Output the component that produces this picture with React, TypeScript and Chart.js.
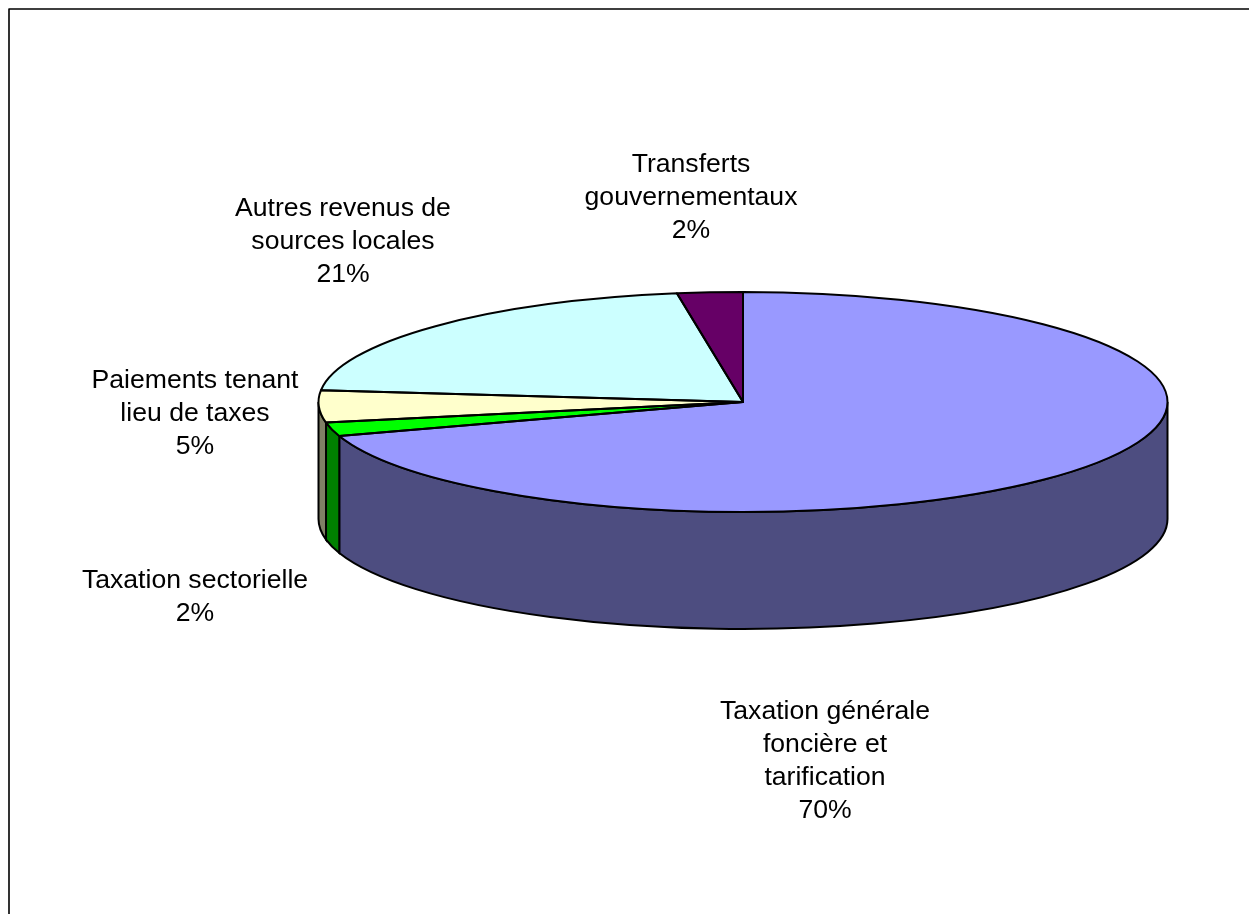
import React, { useEffect, useRef } from "react";
import { Chart, registerables } from "chart.js";

Chart.register(...registerables);

const categories = [
  "Taxation générale foncière et tarification",
  "Taxation sectorielle",
  "Paiements tenant lieu de taxes",
  "Autres revenus de sources locales",
  "Transferts gouvernementaux",
];
const values = [70, 2, 4.7, 20.81, 2.49];
const topColors = ["#9999FF", "#00FF00", "#FFFFCC", "#CCFFFF", "#660066"];
const sideColors = ["#4D4D80", "#008000", "#808066", "#668080", "#330033"];
const labelLines = [
  ["Taxation générale", "foncière et", "tarification", "70%"],
  ["Taxation sectorielle", "2%"],
  ["Paiements tenant", "lieu de taxes", "5%"],
  ["Autres revenus de", "sources locales", "21%"],
  ["Transferts", "gouvernementaux", "2%"],
];

const W = 1249;
const H = 906;
const RX = 424.5;
const RY = 110;
const DEPTH = 117;
const SQUASH = RY / RX;
const LABEL_POS = [
  [817, 704],
  [187, 573],
  [187, 373],
  [335, 201],
  [683, 157],
];
const FONT = "26.6px 'Liberation Sans', Arial, sans-serif";
const LINE_H = 33;
const OUTLINE = 2;

const pie3d = {
  id: "pie3d",
  beforeDatasetsDraw(chart: any) {
    const ctx = chart.ctx;
    const arcs = chart.getDatasetMeta(0).data;
    ctx.save();
    ctx.strokeStyle = "#000";
    ctx.lineWidth = OUTLINE;
    arcs.forEach((a: any, i: number) => {
      const from = Math.max(a.startAngle, 0);
      const to = Math.min(a.endAngle, Math.PI);
      if (to <= from) return;
      ctx.beginPath();
      ctx.ellipse(a.x, a.y, RX, RY, 0, from, to);
      ctx.lineTo(a.x + RX * Math.cos(to), a.y + RY * Math.sin(to) + DEPTH);
      ctx.ellipse(a.x, a.y + DEPTH, RX, RY, 0, to, from, true);
      ctx.closePath();
      ctx.fillStyle = sideColors[i];
      ctx.fill();
      ctx.stroke();
    });
    ctx.restore();
    const c = arcs[0];
    ctx.save();
    ctx.translate(c.x, c.y);
    ctx.scale(1, SQUASH);
    ctx.translate(-c.x, -c.y);
  },
  afterDatasetsDraw(chart: any) {
    const ctx = chart.ctx;
    ctx.restore();
    const arcs = chart.getDatasetMeta(0).data;
    ctx.save();
    ctx.strokeStyle = "#000";
    ctx.lineWidth = OUTLINE;
    ctx.lineJoin = "round";
    arcs.forEach((a: any) => {
      ctx.beginPath();
      ctx.moveTo(a.x, a.y);
      ctx.ellipse(a.x, a.y, RX, RY, 0, a.startAngle, a.endAngle);
      ctx.closePath();
      ctx.stroke();
    });
    ctx.fillStyle = "#000";
    ctx.font = FONT;
    ctx.textAlign = "center";
    ctx.textBaseline = "middle";
    labelLines.forEach((lines, i) => {
      lines.forEach((t, j) => {
        ctx.fillText(t, LABEL_POS[i][0], LABEL_POS[i][1] + j * LINE_H);
      });
    });
    ctx.lineWidth = 1.6;
    ctx.strokeRect(1, 1, W + 100, H + 100);
    ctx.restore();
  },
};

export default function App() {
  const ref = useRef<HTMLCanvasElement | null>(null);
  useEffect(() => {
    const chart = new Chart(ref.current!, {
      type: "pie",
      data: {
        labels: categories,
        datasets: [{ data: values, backgroundColor: topColors, borderWidth: 0 }],
      },
      options: {
        responsive: false,
        animation: false,
        rotation: 0,
        radius: RX,
        layout: { padding: { left: 221, right: 0, top: 0, bottom: 118 } },
        plugins: { legend: { display: false }, tooltip: { enabled: false } },
      } as any,
      plugins: [pie3d],
    });
    return () => chart.destroy();
  }, []);
  return (
    <canvas
      ref={ref}
      width={W}
      height={H}
      style={{ display: "block", width: W, height: H }}
    />
  );
}
